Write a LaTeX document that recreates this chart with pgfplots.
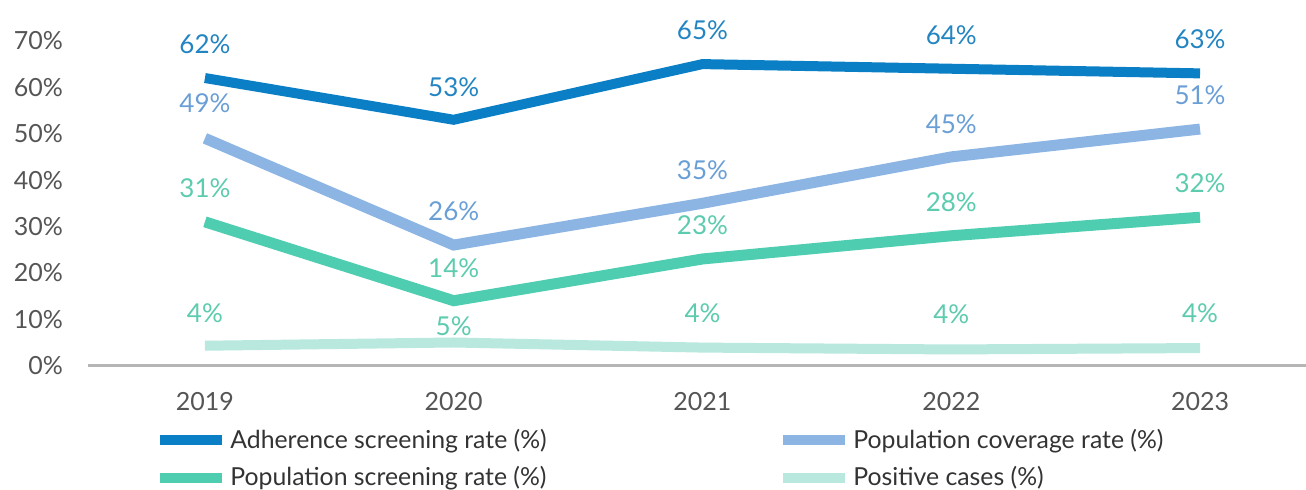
\documentclass[border=0pt]{standalone}
\usepackage{pgfplots}
\pgfplotsset{compat=1.18}
\usepackage{fontspec}
\setmainfont{Lato}
\definecolor{adh}{HTML}{0A7FC5}
\definecolor{adhlab}{HTML}{2384C2}
\definecolor{cov}{HTML}{8CB5E4}
\definecolor{covlab}{HTML}{6A9FD6}
\definecolor{pop}{HTML}{4FCDB1}
\definecolor{poplab}{HTML}{5CCBAE}
\definecolor{posc}{HTML}{B8E8DE}
\definecolor{tick}{HTML}{555555}
\definecolor{axl}{HTML}{B5B5B5}
\begin{document}
\begin{tikzpicture}
\path[use as bounding box] (-44pt,-62.15pt) rectangle (609pt,182.85pt);
\begin{axis}[
  scale only axis,
  width=609pt, height=162.4pt,
  xmin=2018.53, xmax=2023.426,
  ymin=0, ymax=70,
  clip=false,
  axis x line*=bottom, axis y line*=left,
  x axis line style={draw=axl, line width=1.5pt, -},
  y axis line style={draw=none},
  major tick length=0pt,
  xtick={2019,2020,2021,2022,2023},
  xticklabels={2019,2020,2021,2022,2023},
  ytick={0,10,20,30,40,50,60,70},
  yticklabels={0\%,10\%,20\%,30\%,40\%,50\%,60\%,70\%},
  /pgf/number format/assume math mode=true,
  tick label style={font=\fontsize{12.5}{14}\selectfont, text=tick},
  yticklabel style={anchor=east, xshift=-9pt},
  xticklabel style={anchor=center, yshift=-18pt},
  nodes near coords={\pgfplotspointmeta\%},
  point meta=explicit symbolic,
  visualization depends on={\thisrow{off} \as \myoff},
  every node near coord/.style={anchor=center, yshift=\myoff pt, font=\fontsize{13}{15}\selectfont},
  legend columns=2,
  legend cell align=left,
  legend style={at={(rel axis cs:0.055,-0.185)}, anchor=north west, draw=none, fill=none,
    inner sep=0pt, font=\fontsize{12.4}{14}\selectfont, text=black!80,
    /tikz/every even column/.append style={column sep=0pt},
    row sep=4.5pt,
    nodes={inner sep=1.5pt}},
  legend image code/.code={\draw[#1, line width=5pt] (0pt,0pt) -- (31pt,0pt);},
]
\addplot[adh, line width=5pt, mark=none, every node near coord/.append style={text=adhlab}]
  table[meta=lab] {
x y lab off
2019 62 62 17
2020 53 53 16.5
2021 65 65 17
2022 64 64 17
2023 63 63 17
};
\addlegendentry{\makebox[272.5pt][l]{Adherence screening rate (\%)}}
\addplot[cov, line width=5.5pt, mark=none, every node near coord/.append style={text=covlab}]
  table[meta=lab] {
x y lab off
2019 49 49 17.5
2020 26 26 17
2021 35 35 16.5
2022 45 45 16.5
2023 51 51 17
};
\addlegendentry{Population coverage rate (\%)}
\addplot[pop, line width=5.5pt, mark=none, every node near coord/.append style={text=poplab}]
  table[meta=lab] {
x y lab off
2019 31 31 17
2020 14 14 16.5
2021 23 23 17
2022 28 28 17
2023 32 32 17
};
\addlegendentry{\makebox[272.5pt][l]{Population screening rate (\%)}}
\addplot[posc, line width=5pt, mark=none, every node near coord/.append style={text=poplab}]
  table[meta=lab] {
x y lab off
2019 4.3 4 16.5
2020 5.0 5 8
2021 3.9 4 17
2022 3.5 4 17.5
2023 3.8 4 17.5
};
\addlegendentry{Positive cases (\%)}
\end{axis}
\end{tikzpicture}
\end{document}
